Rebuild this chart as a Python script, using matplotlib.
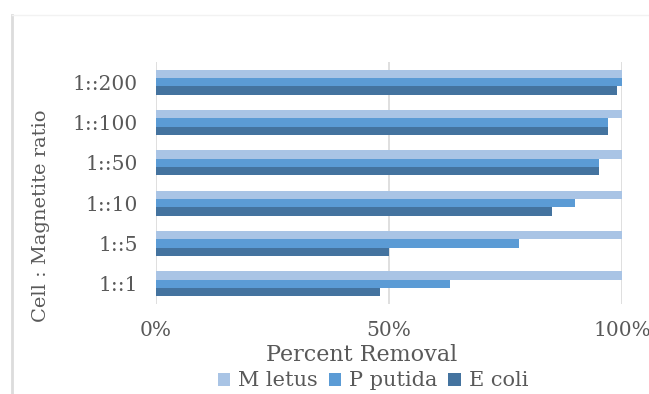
import matplotlib
matplotlib.use("Agg")
import matplotlib.pyplot as plt
import numpy as np

# 資料
ratios = ['1::1', '1::5', '1::10', '1::50', '1::100', '1::200']
m_letus = [100, 100, 100, 100, 100, 100]
p_putida = [63, 78, 90, 95, 97, 100]
e_coli = [48, 50, 85, 95, 97, 99]

series = [('M letus', m_letus, '#a9c4e5'),
          ('P putida', p_putida, '#5b9bd5'),
          ('E coli', e_coli, '#44739f')]

plt.rcParams['font.family'] = ['DejaVu Serif']
text_color = '#595959'

fig = plt.figure(figsize=(6.49, 3.94), dpi=100)
ax = fig.add_axes([156 / 649, 1 - 304 / 394, 466 / 649, 242 / 394])

y = np.arange(len(ratios))
h = 0.207
offsets = [h, 0, -h]
for (name, vals, color), off in zip(series, offsets):
    ax.barh(y + off, vals, height=h, color=color, label=name, zorder=3)

ax.set_xlim(0, 100)
ax.set_ylim(-0.5, 5.5)
ax.set_xticks([0, 50, 100])
ax.set_xticklabels(['0%', '50%', '100%'])
ax.set_yticks(y)
ax.set_yticklabels(ratios)
ax.tick_params(length=0, colors=text_color, labelsize=14.5)
ax.tick_params(axis='x', pad=12)
ax.tick_params(axis='y', pad=13)
ax.xaxis.grid(True, color='#d9d9d9', linewidth=1.2, zorder=0)
for s in ax.spines.values():
    s.set_visible(False)

fig.text(362 / 649, 1 - 355 / 394, 'Percent Removal', ha='center', va='center',
         fontsize=16, color=text_color)
fig.text(41 / 649, 1 - 216 / 394, 'Cell : Magnetite ratio', ha='center', va='center',
         rotation=90, fontsize=14, color=text_color)

fig.legend(loc='center', bbox_to_anchor=(373 / 649, 1 - 381 / 394), ncol=3, frameon=False,
           fontsize=15, labelcolor=text_color, handlelength=0.6, handleheight=0.6,
           handletextpad=0.4, columnspacing=0.5, borderpad=0)

# 左側邊框
fig.add_artist(plt.Line2D([12 / 649, 12 / 649], [0, 1 - 15 / 394], color='#dcdcdc', linewidth=2))
fig.add_artist(plt.Line2D([12 / 649, 1], [1 - 15 / 394, 1 - 15 / 394], color='#f2f2f2', linewidth=1))

plt.savefig('out.png', dpi=100)
